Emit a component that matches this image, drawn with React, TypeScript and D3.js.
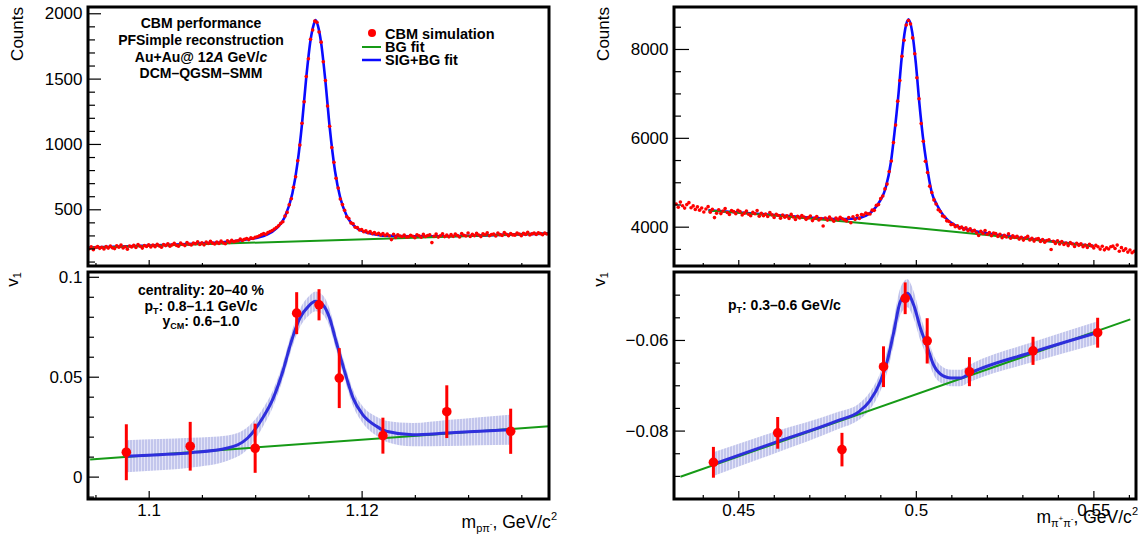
import React, { useEffect, useRef } from 'react';
import * as d3 from 'd3';

// Lambda -> p pi- : invariant-mass histogram (bin centres from lamMassStart, step lamBinWidth)
const lamMassStart = 1.0944;
const lamBinWidth = 0.0002;
const lamCounts = [
  198, 212, 190, 207, 215, 201, 209, 196, 214, 203,
  218, 205, 199, 221, 210, 226, 204, 213, 195, 219,
  212, 224, 208, 230, 217, 203, 222, 215, 228, 211,
  226, 214, 233, 219, 209, 231, 222, 236, 217, 228,
  239, 224, 218, 241, 230, 222, 245, 233, 227, 242,
  236, 251, 230, 244, 228, 249, 238, 255, 241, 234,
  249, 238, 256, 243, 236, 258, 247, 262, 251, 257,
  259, 272, 262, 270, 277, 268, 281, 276, 286, 290,
  297, 306, 314, 309, 322, 330, 338, 349, 361, 374,
  392, 405, 448, 476, 534, 581, 668, 749, 872, 991,
  1158, 1322, 1516, 1652, 1801, 1872, 1940, 1931, 1857, 1779,
  1629, 1486, 1290, 1135, 972, 859, 737, 662, 579, 536,
  492, 443, 429, 396, 389, 362, 361, 341, 345, 329,
  336, 321, 330, 314, 322, 309, 317, 303, 315, 299,
  311, 298, 268, 309, 285, 304, 296, 290, 303, 287,
  289, 301, 294, 283, 305, 297, 286, 308, 292, 299,
  304, 245, 293, 310, 287, 298, 313, 291, 302, 289,
  306, 293, 311, 299, 288, 314, 301, 296, 318, 292,
  309, 297, 316, 303, 291, 312, 305, 320, 298, 307,
  311, 296, 318, 306, 300, 322, 309, 297, 315, 304,
  302, 319, 310, 297, 316, 308, 324, 303, 312, 318,
  307, 321, 314, 305, 319, 311,
];
const lamBgFit: [number, number][] = [[1.0943, 205], [1.1376, 315]];
const lamSigBgFit: [number, number][] = [
  [1.0943, 206], [1.098, 217], [1.102, 228], [1.105, 239], [1.1075, 252], [1.1095, 272],
  [1.111, 302], [1.112, 354], [1.1128, 443], [1.1135, 622], [1.114, 867], [1.1144, 1152],
  [1.1148, 1509], [1.1152, 1794], [1.1155, 1914], [1.11568, 1949], [1.1159, 1903], [1.1162, 1772],
  [1.1166, 1479], [1.117, 1128], [1.1175, 793], [1.118, 586], [1.1186, 450], [1.1195, 359],
  [1.121, 312], [1.123, 295], [1.126, 294], [1.13, 298], [1.1376, 316],
];

// Lambda v1 vs mass
const lamV1Mass = [1.0979, 1.1039, 1.11, 1.1139, 1.116, 1.1179, 1.122, 1.128, 1.134];
const lamV1 = [0.0122, 0.0152, 0.0142, 0.0818, 0.086, 0.0493, 0.0205, 0.0325, 0.0227];
const lamV1Err = [0.014, 0.0122, 0.0123, 0.0105, 0.0078, 0.015, 0.009, 0.0132, 0.0113];
const lamV1BgFit: [number, number][] = [[1.0945, 0.0086], [1.1376, 0.0252]];
const lamV1FitMass = [1.0979, 1.101, 1.104, 1.1074, 1.1093, 1.1107, 1.1117, 1.1126, 1.1134, 1.1142, 1.115, 1.11568,
  1.1164, 1.117, 1.1176, 1.1184, 1.1192, 1.1201, 1.1214, 1.1223, 1.1248, 1.128, 1.1311, 1.1339];
const lamV1Fit = [0.0102, 0.011, 0.012, 0.0143, 0.0193, 0.0293, 0.0393, 0.0527, 0.0677, 0.0793, 0.0852, 0.0877,
  0.0857, 0.0793, 0.0677, 0.0527, 0.0393, 0.031, 0.0252, 0.0227, 0.021, 0.0218, 0.0227, 0.0235];
const lamV1FitErr = [0.008, 0.0078, 0.0074, 0.0063, 0.0055, 0.0046, 0.0042, 0.004, 0.0042, 0.0045, 0.0048, 0.005,
  0.0048, 0.0045, 0.0042, 0.004, 0.004, 0.0042, 0.0048, 0.0052, 0.0058, 0.0065, 0.007, 0.0075];

// K0s -> pi+ pi- : invariant-mass histogram
const kaMassStart = 0.4325;
const kaBinWidth = 0.0006;
const kaCounts = [
  4512, 4436, 4553, 4470, 4418, 4497, 4541, 4425, 4468, 4389,
  4446, 4372, 4421, 4330, 4398, 4451, 4327, 4389, 4205, 4301,
  4381, 4295, 4352, 4407, 4318, 4276, 4365, 4339, 4290, 4371,
  4338, 4262, 4305, 4354, 4279, 4246, 4321, 4290, 4362, 4237,
  4301, 4245, 4284, 4229, 4318, 4266, 4207, 4279, 4252, 4190,
  4262, 4211, 4247, 4185, 4276, 4220, 4162, 4233, 4198, 4251,
  4218, 4165, 4203, 4241, 4137, 4190, 4228, 4151, 4183, 4015,
  4196, 4148, 4215, 4169, 4122, 4193, 4160, 4211, 4178, 4154,
  4128, 4205, 4090, 4223, 4165, 4251, 4187, 4274, 4262, 4309,
  4291, 4284, 4372, 4368, 4480, 4497, 4631, 4689, 4851, 4958,
  5241, 5478, 5893, 6287, 6826, 7291, 7834, 8196, 8538, 8641,
  8563, 8249, 7891, 7352, 6880, 6321, 5924, 5471, 5218, 4912,
  4768, 4603, 4512, 4381, 4339, 4241, 4219, 4131, 4118, 4047,
  4052, 3998, 4021, 3965, 3990, 3938, 3974, 3911, 3952, 3897,
  3918, 3862, 3801, 3894, 3847, 3912, 3829, 3870, 3798, 3856,
  3843, 3781, 3829, 3752, 3806, 3768, 3837, 3741, 3794, 3759,
  3785, 3721, 3762, 3698, 3749, 3781, 3703, 3737, 3676, 3724,
  3731, 3668, 3712, 3649, 3690, 3706, 3485, 3671, 3622, 3684,
  3611, 3667, 3598, 3632, 3574, 3641, 3609, 3553, 3626, 3580,
  3612, 3547, 3589, 3531, 3604, 3568, 3522, 3579, 3547, 3495,
  3561, 3478, 3523, 3496, 3548, 3562, 3510, 3585, 3447, 3528,
  3463, 3501, 3428, 3475, 3412, 3446,
];
const kaBgFit: [number, number][] = [
  [0.4416, 4366], [0.46, 4252], [0.48, 4117], [0.5, 3971], [0.52, 3814], [0.54, 3647], [0.5501, 3558],
];
const kaSigBgFit: [number, number][] = [
  [0.4416, 4371], [0.46, 4262], [0.47, 4205], [0.478, 4172], [0.483, 4185], [0.486, 4248], [0.488, 4370],
  [0.49, 4591], [0.4915, 4871], [0.493, 5461], [0.494, 6124], [0.495, 6887], [0.496, 7790], [0.497, 8443],
  [0.49797, 8666], [0.499, 8369], [0.5, 7682], [0.501, 6775], [0.502, 6017], [0.503, 5430], [0.5045, 4764],
  [0.506, 4483], [0.508, 4228], [0.511, 4035], [0.515, 3930], [0.52, 3849], [0.53, 3745], [0.54, 3654],
  [0.5501, 3562],
];

// K0s v1 vs mass
const kaV1Mass = [0.443, 0.4611, 0.4792, 0.4909, 0.497, 0.5032, 0.5151, 0.533, 0.5512];
const kaV1 = [-0.087, -0.0805, -0.0842, -0.0659, -0.0508, -0.0602, -0.067, -0.0624, -0.0584];
const kaV1Err = [0.0034, 0.0035, 0.0037, 0.0045, 0.0035, 0.005, 0.0032, 0.0031, 0.0033];
const kaV1BgFit: [number, number][] = [[0.4337, -0.0902], [0.5604, -0.05545]];
const kaV1FitMass = [0.443, 0.46, 0.478, 0.484, 0.487, 0.49, 0.4919, 0.4938, 0.4956, 0.4976, 0.4994, 0.5013,
  0.5032, 0.505, 0.5069, 0.51, 0.5125, 0.5153, 0.5332, 0.551];
const kaV1Fit = [-0.0874, -0.0827, -0.0778, -0.0758, -0.0735, -0.0692, -0.0648, -0.0582, -0.0516, -0.0497,
  -0.0523, -0.0574, -0.0615, -0.0655, -0.0675, -0.0684, -0.0684, -0.0673, -0.0626, -0.0584];
const kaV1FitErr = [0.0026, 0.0024, 0.0019, 0.0018, 0.0019, 0.0021, 0.0024, 0.0027, 0.003, 0.0031,
  0.003, 0.0027, 0.0024, 0.0021, 0.0019, 0.0018, 0.0018, 0.0019, 0.0022, 0.0025];

// axis ticks
const lamMassTicks = [1.1, 1.12];
const lamCountTicks = [500, 1000, 1500, 2000];
const lamV1Ticks = [0, 0.05, 0.1];
const kaMassTicks = [0.45, 0.5, 0.55];
const kaCountTicks = [4000, 6000, 8000];
const kaV1Ticks = [-0.08, -0.06];

const FONT = '"Liberation Sans", Arial, Helvetica, sans-serif';
const RED = '#ff0000';
const GREEN = '#169a16';
const BLUE = '#0a0aff';

const fmt = (d: number) => (d < 0 ? '\u2212' : '') + String(Math.abs(d));

function minorTicks(scale: any, step: number, major: number[]) {
  const [a, b] = scale.domain();
  const lo = Math.min(a, b), hi = Math.max(a, b);
  const [r0, r1] = scale.range();
  const out: number[] = [];
  for (let k = Math.ceil(lo / step - 1e-9); k * step <= hi + 1e-12; k++) {
    const v = +(k * step).toFixed(6);
    if (major.some(m => Math.abs(m - v) < step / 10)) continue;
    const px = scale(v);
    if (Math.abs(px - r0) < 2 || Math.abs(px - r1) < 2) continue;
    out.push(v);
  }
  return out;
}

function drawAxes(g: any, x: any, y: any, o: any) {
  const [xa] = x.range();
  const [yb] = y.range();
  const style = (sel: any) => {
    sel.select('.domain').remove();
    sel.attr('font-family', FONT).attr('font-size', 17);
    sel.selectAll('line').attr('stroke', '#000').attr('stroke-width', 1.2);
    sel.selectAll('text').attr('fill', '#000');
  };
  g.append('g').attr('transform', `translate(${xa},0)`)
    .call(d3.axisLeft(y).tickValues(minorTicks(y, o.yStep, o.yMajor)).tickSize(-o.yLen[1]).tickFormat(() => ''))
    .call(style);
  g.append('g').attr('transform', `translate(${xa},0)`)
    .call(d3.axisLeft(y).tickValues(o.yMajor).tickSize(-o.yLen[0]).tickPadding(5.5).tickFormat(fmt as any))
    .call(style);
  g.append('g').attr('transform', `translate(0,${yb})`)
    .call(d3.axisBottom(x).tickValues(minorTicks(x, o.xStep, o.xMajor)).tickSize(-o.xLen[1]).tickFormat(() => ''))
    .call(style);
  g.append('g').attr('transform', `translate(0,${yb})`)
    .call(d3.axisBottom(x).tickValues(o.xMajor).tickSize(-o.xLen[0]).tickPadding(4.5)
      .tickFormat((o.xLabels ? fmt : () => '') as any))
    .call(style);
}

function drawFrame(g: any, x: any, y: any) {
  const [xa, xb] = x.range();
  const [yb, ya] = y.range();
  g.append('rect').attr('x', xa).attr('y', ya).attr('width', xb - xa).attr('height', yb - ya)
    .attr('fill', 'none').attr('stroke', '#000').attr('stroke-width', 3);
}

function drawMassPanel(g: any, x: any, y: any, start: number, width: number, counts: number[],
  sigBg: [number, number][], bg: [number, number][]) {
  const line = d3.line<[number, number]>().x(d => x(d[0])).y(d => y(d[1])).curve(d3.curveMonotoneX);
  g.append('path').datum(sigBg).attr('fill', 'none').attr('stroke', BLUE).attr('stroke-width', 2.6).attr('d', line);
  g.append('path').datum(bg).attr('fill', 'none').attr('stroke', GREEN).attr('stroke-width', 2).attr('d', line);
  g.append('g').selectAll('circle').data(counts).join('circle')
    .attr('cx', (d: number, i: number) => x(start + i * width)).attr('cy', (d: number) => y(d))
    .attr('r', 1.8).attr('fill', RED);
}

function drawV1Panel(g: any, x: any, y: any, fm: number[], fv: number[], fe: number[],
  bg: [number, number][], pm: number[], pv: number[], pe: number[]) {
  const idx = d3.range(fm.length);
  const area = d3.area<number>().x(i => x(fm[i])).y0(i => y(fv[i] - fe[i])).y1(i => y(fv[i] + fe[i]))
    .curve(d3.curveMonotoneX);
  g.append('path').datum(idx).attr('fill', 'url(#band-hatch)').attr('d', area);
  const line = d3.line<[number, number]>().x(d => x(d[0])).y(d => y(d[1]));
  g.append('path').datum(bg).attr('fill', 'none').attr('stroke', GREEN).attr('stroke-width', 2).attr('d', line);
  const fit = d3.line<number>().x(i => x(fm[i])).y(i => y(fv[i])).curve(d3.curveMonotoneX);
  g.append('path').datum(idx).attr('fill', 'none').attr('stroke', '#2f2fdc').attr('stroke-width', 3).attr('d', fit);
  const pts = d3.range(pm.length);
  g.append('g').selectAll('line').data(pts).join('line')
    .attr('x1', (i: number) => x(pm[i])).attr('x2', (i: number) => x(pm[i]))
    .attr('y1', (i: number) => y(pv[i] - pe[i])).attr('y2', (i: number) => y(pv[i] + pe[i]))
    .attr('stroke', RED).attr('stroke-width', 3);
  g.append('g').selectAll('circle').data(pts).join('circle')
    .attr('cx', (i: number) => x(pm[i])).attr('cy', (i: number) => y(pv[i])).attr('r', 4.8).attr('fill', RED);
}

function addText(g: any, x: number, y: number, anchor: string, parts: any[], size = 14, weight = 'bold') {
  const t = g.append('text').attr('x', x).attr('y', y).attr('text-anchor', anchor)
    .attr('font-family', FONT).attr('font-size', size).attr('font-weight', weight).attr('fill', '#000');
  parts.forEach(p => {
    const s = t.append('tspan').text(p.t);
    if (p.size) s.attr('font-size', p.size);
    if (p.dy) s.attr('dy', p.dy);
    if (p.italic) s.attr('font-style', 'italic');
  });
  return t;
}

export default function App() {
  const svgRef = useRef<SVGSVGElement>(null);

  useEffect(() => {
    const svg = d3.select(svgRef.current);
    svg.selectAll('*').remove();

    const defs = svg.append('defs');
    const pat = defs.append('pattern').attr('id', 'band-hatch').attr('patternUnits', 'userSpaceOnUse')
      .attr('width', 3).attr('height', 4);
    pat.append('rect').attr('width', 3).attr('height', 4).attr('fill', '#c3c6ec');
    pat.append('rect').attr('width', 1).attr('height', 4).attr('fill', '#e2e3f7');

    const g = svg.append('g');

    // scales (frames: left 88–549, right 674–1136; top 7–266, bottom 272–499)
    const xLam = d3.scaleLinear().domain([1.0943, 1.1376]).range([88, 549]);
    const xKa = d3.scaleLinear().domain([0.4319, 0.562]).range([674, 1136]);
    const yLam = d3.scaleLinear().domain([66, 2048]).range([266, 7]);
    const yKa = d3.scaleLinear().domain([3115, 8945]).range([266, 7]);
    const yLamV1 = d3.scaleLinear().domain([-0.0112, 0.1024]).range([499, 272]);
    const yKaV1 = d3.scaleLinear().domain([-0.0951, -0.045]).range([499, 272]);

    // Top-left: Lambda mass
    drawMassPanel(g, xLam, yLam, lamMassStart, lamBinWidth, lamCounts, lamSigBgFit, lamBgFit);
    drawAxes(g, xLam, yLam, { xMajor: lamMassTicks, xStep: 0.005, xLen: [6, 3], yMajor: lamCountTicks, yStep: 100, yLen: [13, 7], xLabels: false });
    drawFrame(g, xLam, yLam);

    // Top-right: K0s mass
    drawMassPanel(g, xKa, yKa, kaMassStart, kaBinWidth, kaCounts, kaSigBgFit, kaBgFit);
    drawAxes(g, xKa, yKa, { xMajor: kaMassTicks, xStep: 0.01, xLen: [6, 3], yMajor: kaCountTicks, yStep: 500, yLen: [15, 7], xLabels: false });
    drawFrame(g, xKa, yKa);

    // Bottom-left: Lambda v1
    drawV1Panel(g, xLam, yLamV1, lamV1FitMass, lamV1Fit, lamV1FitErr, lamV1BgFit, lamV1Mass, lamV1, lamV1Err);
    drawAxes(g, xLam, yLamV1, { xMajor: lamMassTicks, xStep: 0.005, xLen: [8, 4], yMajor: lamV1Ticks, yStep: 0.01, yLen: [11, 6], xLabels: true });
    drawFrame(g, xLam, yLamV1);

    // Bottom-right: K0s v1
    drawV1Panel(g, xKa, yKaV1, kaV1FitMass, kaV1Fit, kaV1FitErr, kaV1BgFit, kaV1Mass, kaV1, kaV1Err);
    drawAxes(g, xKa, yKaV1, { xMajor: kaMassTicks, xStep: 0.01, xLen: [8, 4], yMajor: kaV1Ticks, yStep: 0.005, yLen: [11, 6], xLabels: true });
    drawFrame(g, xKa, yKaV1);

    // Axis titles
    [23, 609].forEach(px => {
      g.append('text').attr('transform', `translate(${px},7) rotate(-90)`).attr('text-anchor', 'end')
        .attr('font-family', FONT).attr('font-size', 17).text('Counts');
    });
    [18, 605].forEach(px => {
      addText(g.append('g').attr('transform', `translate(${px},272) rotate(-90)`), 0, 0, 'end',
        [{ t: 'v' }, { t: '1', size: 11, dy: 3 }], 17, 'normal');
    });
    addText(g, 557, 528, 'end', [
      { t: 'm' }, { t: 'p\u03c0', size: 11, dy: 4 }, { t: '-', size: 8, dy: -6 },
      { t: ', GeV/c', size: 17.5, dy: 2 }, { t: '2', size: 11, dy: -8 },
    ], 17.5, 'normal');
    addText(g, 1138, 523, 'end', [
      { t: 'm' }, { t: '\u03c0', size: 11, dy: 4 }, { t: '+', size: 8, dy: -6 },
      { t: '\u03c0', size: 11, dy: 6 }, { t: '-', size: 8, dy: -6 },
      { t: ', GeV/c', size: 17.5, dy: 2 }, { t: '2', size: 11, dy: -8 },
    ], 17.5, 'normal');

    // Top-left labels
    addText(g, 201, 28, 'middle', [{ t: 'CBM performance' }]);
    addText(g, 201, 45, 'middle', [{ t: 'PFSimple reconstruction' }]);
    addText(g, 201, 62, 'middle', [{ t: 'Au+Au@ 12' }, { t: 'A', italic: true }, { t: ' GeV/' }, { t: 'c', italic: true }]);
    addText(g, 201, 78, 'middle', [{ t: 'DCM\u2013QGSM\u2013SMM' }]);

    // Legend
    g.append('circle').attr('cx', 372).attr('cy', 33).attr('r', 4).attr('fill', RED);
    addText(g, 385, 39, 'start', [{ t: 'CBM simulation' }], 14.5);
    g.append('line').attr('x1', 362).attr('x2', 381).attr('y1', 47).attr('y2', 47).attr('stroke', GREEN).attr('stroke-width', 2);
    addText(g, 385, 52, 'start', [{ t: 'BG fit' }], 14.5);
    g.append('line').attr('x1', 362).attr('x2', 381).attr('y1', 60).attr('y2', 60).attr('stroke', BLUE).attr('stroke-width', 2.5);
    addText(g, 385, 65, 'start', [{ t: 'SIG+BG fit' }], 14.5);

    // Bottom-left labels
    addText(g, 201, 295, 'middle', [{ t: 'centrality: 20\u201340 %' }]);
    addText(g, 201, 311, 'middle', [{ t: 'p' }, { t: 'T', size: 9, dy: 3 }, { t: ': 0.8\u20131.1 GeV/c', dy: -3 }]);
    addText(g, 201, 326, 'middle', [{ t: 'y' }, { t: 'CM', size: 9, dy: 3 }, { t: ': 0.6\u20131.0', dy: -3 }]);

    // Bottom-right label
    addText(g, 728, 310, 'start', [{ t: 'p' }, { t: 'T', size: 9, dy: 3 }, { t: ': 0.3\u20130.6 GeV/c', dy: -3 }]);
  }, []);

  return (
    <svg ref={svgRef} width={1139} height={539}
      style={{ position: 'absolute', left: 0, top: 0, background: '#fff', display: 'block' }} />
  );
}
